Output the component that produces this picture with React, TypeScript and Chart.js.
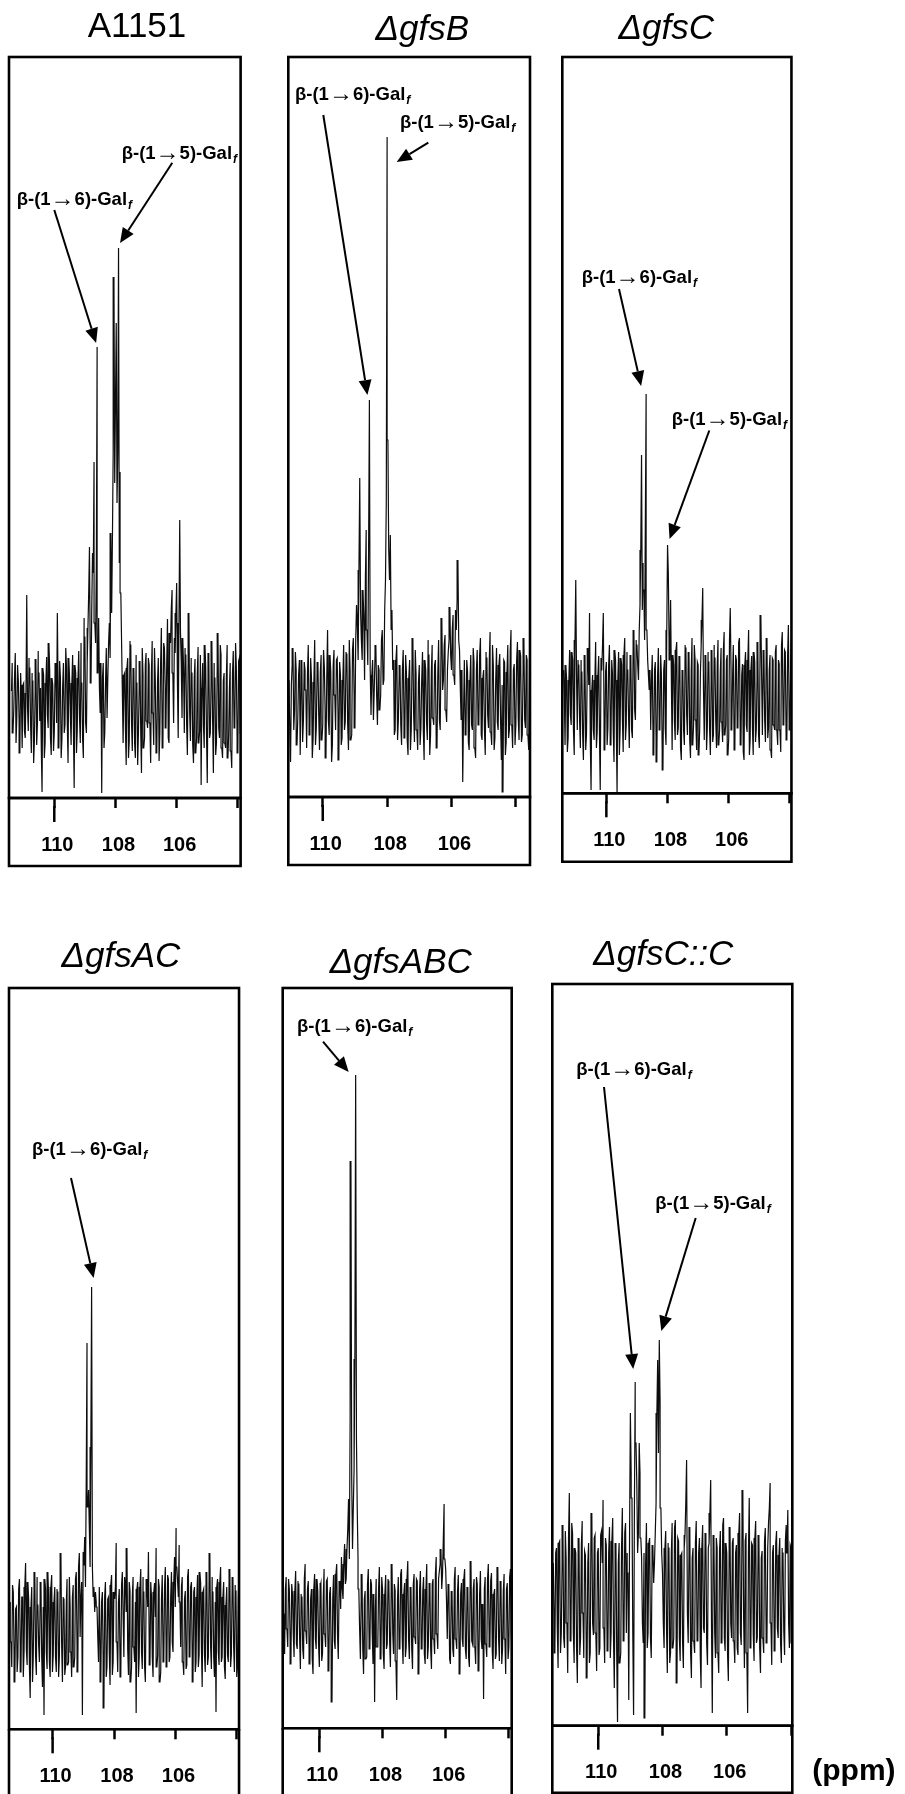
import { useEffect, useRef } from "react";
import { Chart, registerables } from "chart.js";

Chart.register(...registerables);

const SANS = "'Liberation Sans', Arial, Helvetica, sans-serif";

// 13C chemical-shift axis (ppm), drawn high-to-low
const PPM_TICKS = [110, 108, 106, 104];
const PPM_TICK_LABELS = ["110", "108", "106", ""];
const PPM_STEP = 0.025;

// Anomeric-region intensities (arbitrary units, baseline = 0).
// Each series starts at *_START ppm and has one point every PPM_STEP ppm.
const A1151_START = 111.4;
const A1151 = [
  12, 40, -30, -8, 25, 50, -40, -15, 38, 22, -18, -50, 30, 5, -45, 18, 20, -28, -35, 10,
  108, -5, -28, 45, 35, -22, -50, 30, 22, -60, -38, 12, 44, -42, -20, 52, 30, -18, 15, -45,
  -89, 35, 28, -55, -40, 20, 46, -12, -25, 60, 33, -35, -52, 25, 18, -48, -30, 30, 40, -20,
  90, 15, -45, 42, 26, -55, -36, 18, 40, -30, -22, 55, 35, -20, -60, 45, 24, -12, -42, 20,
  48, -25, -85, 38, 30, -50, -28, 25, 52, -15, -40, 60, 20, -35, -55, 85, 66, -20, -30, 40,
  75, 110, 156, 45, 20, 95, 150, 130, 241, 80, 60, 140, 356, 30, 85, 15, -10, 40, -90, 25,
  40, -45, -30, 20, 55, -15, 25, 60, 80, 45, 170, 90, 163, 250, 426, 220, 300, 380, 200, 250,
  455, 140, 231, 110, 60, 10, -40, 28, 30, -25, -62, 35, 45, -55, -38, 62, 58, -20, -48, 30,
  35, -40, -55, 48, 20, -62, -30, 15, 42, -28, -70, 55, 28, -45, -35, 38, 50, -18, -25, 45,
  38, -20, -60, 30, 62, -10, -42, 55, 26, -38, -50, 22, 45, -58, -30, 40, 75, -25, -45, 60,
  55, 15, -25, 40, 84, -35, -40, 70, 60, 95, 113, 30, -20, 65, 50, 90, 120, 20, -35, 80,
  183, 70, 40, -15, 65, 35, -30, 55, 48, -20, -52, 40, 90, -10, -38, 45, 30, -42, -60, 25,
  44, -50, -35, 30, 56, -40, -28, 48, -82, 15, 40, -22, -45, 58, 35, -30, -80, 25, 50, -35,
  -30, 20, 62, -18, -70, 40, 25, -52, -40, 35, 70, -25, -35, 58, 48, -45, -55, 22, 30, -40,
  -45, 28, 58, -55, -30, 15, 40, -48, -65, 30, 52, -20, -25, 60, 36, -35, -50, 42, 45, -28,
  -30, 35, 20,
];

const GFSB_START = 111.05;
const GFSB = [
  20, -25, -62, 15, 35, 52, -30, -10, 48, 30, -45, -18, 25, 40, -55, 10, 40, -42, -20, 38,
  30, 10, -48, 25, 55, -20, -35, 42, 22, -58, -40, 18, 60, -45, -28, 30, 38, -15, -50, 28,
  45, -40, -25, 50, 33, -12, -58, 22, 70, -20, -35, 45, 28, -62, -45, 35, 50, 5, -30, 40,
  42, -15, -60, 38, 25, -45, -38, 20, 55, -30, -22, 48, 46, -25, -50, 60, 30, -40, -35, 50,
  62, 5, -28, 60, 95, 75, 40, 130, 222, 90, 60, 40, 110, 85, 20, 120, 170, 70, 35, 150,
  300, 30, -15, 25, 40, -20, 10, 45, 55, 5, -25, 35, 30, -10, 5, 60, 70, 15, 20, 90,
  120, 200, 563, 260, 150, 120, 165, 70, 90, 30, 40, -35, -30, 40, 55, -40, -20, 25, 35, -25,
  -45, 30, 50, -20, -38, 45, 28, -40, -55, 22, 40, -50, -30, 38, 62, -15, -42, 50, 25, -30,
  -50, 18, 35, -45, -28, 20, 48, -30, -60, 40, 30, -22, -40, 60, 45, -55, -35, 28, 55, -18,
  -25, 35, 40, -38, -48, 25, 60, -20, -30, 50, 82, 10, 20, 55, 65, -10, -22, 30, 48, 60,
  93, 45, 30, 70, 85, 25, 15, 90, 70, 100, 140, 60, 50, 10, -20, 30, -82, -15, 40, -25,
  -35, 40, 28, -42, -50, 20, 45, -25, -30, 52, 38, -48, -58, 30, 50, -20, -25, 45, 62, -35,
  -40, 22, 30, -30, -55, 48, 42, -15, -28, 40, 68, -32, -45, 55, 35, -50, -38, 20, 52, -22,
  -30, 35, 46, -20, -60, 15, -92, 40, 38, -55, -42, 28, 55, -38, -30, 48, 70, -25, -48, 30,
  36, -45, -25, 40, 58, -18, -40, 50, 44, -42, -35, 30, 62, -20, -28, 45, 40, -35, -50, 42,
  30,
];

const GFSC_START = 111.4;
const GFSC = [
  30, 5, -45, 35, 22, -52, -38, 20, 50, -15, -25, 48, 40, -30, -55, 60, 120, 25, -30, 40,
  35, -20, -48, 40, 28, -35, -60, 22, 45, -50, -35, 30, 52, 15, 87, -40, -90, 10, 25, -30,
  -40, 20, 58, -48, -32, 25, 44, -35, -90, 42, 30, 55, 87, -20, -50, 28, 38, -45, -28, 35,
  55, -18, -45, 40, 26, -30, -62, 50, 40, -25, -93, 20, 48, -55, -30, 42, 35, -20, -52, 45,
  62, -40, -25, 48, 30, -15, -48, 35, 45, -30, -38, 52, 70, -10, -20, 60, 55, 35, 20, 70,
  95, 150, 245, 90, 137, 110, 60, 180, 306, 70, 40, 25, 10, 30, -30, 20, 45, -35, -55, 30,
  38, -40, -62, 25, 52, -18, -30, 45, 25, -50, -70, 30, 40, -28, -45, 70, 155, 128, 60, 40,
  100, 20, -50, 45, 35, -22, -40, 50, 58, -35, -28, 40, 44, -48, -60, 25, 30, -30, -45, 55,
  52, -15, -35, 42, 48, -40, -58, 30, 62, -45, -25, 55, 40, -20, -50, 38, 35, -55, -30, 28,
  55, 80, 112, 10, -40, 30, 45, -50, -28, 48, 38, -30, -55, 20, 50, -42, -35, 55, 42, -20,
  -48, 35, 60, -45, -30, 28, 52, -22, -42, 50, 68, -35, -25, 40, 45, -55, -38, 60, 92, 30,
  -30, 22, 55, -38, -50, 45, 40, -20, -28, 58, 62, -30, -45, 25, 36, -52, -60, 35, 48, -25,
  -32, 40, 70, -55, -40, 30, 44, -28, -55, 48, 38, -42, -30, 20, 58, -35, -48, 50, 85, 25,
  -35, 28, 50, -20, -42, 45, 62, -38, -28, 30, 45, -50, -58, 42, 40, -25, -30, 48, 55, -30,
  -45, 40, 36, -30, -52, 55, 68, -15, -25, 50, 48, -35, -40, 45, 75, -20, -30, 38, 60, 10,
  -20,
];

const GFSAC_START = 111.38;
const GFSAC = [
  25, -15, -40, 42, 35, -28, -55, 18, 20, -45, -30, 38, 48, -20, -45, 30, 30, -50, -25, 40,
  64, -22, -38, 45, 28, -40, -71, 20, 40, -55, -30, 35, 55, -28, -48, 50, 22, -18, -35, 30,
  45, -30, -60, 20, -88, 48, 38, -25, -42, 55, 30, -35, -50, 40, 52, -45, -28, 25, 40, -30,
  -45, 38, 35, -50, -30, 45, 74, -20, -55, 30, 28, -48, -40, 22, 48, -38, -35, 50, 20, -25,
  -50, 30, 42, -40, -30, 48, 55, -20, -45, 60, 74, -10, 30, 45, -88, 75, 62, 90, 40, 150,
  284, 120, 137, 100, 60, 180, 340, 60, 30, 40, 15, 35, 25, 20, -10, -35, 40, -20, -55, 25,
  35, -30, -81, 30, 45, -50, -40, 28, 30, -25, -58, 42, 52, -48, -35, 35, 28, 40, 84, -15,
  -45, 25, 38, -35, -50, 42, 55, -30, -30, 50, 42, 15, 79, -22, -48, 45, 36, -55, -40, 30,
  50, -20, -35, 25, -86, 38, 45, -50, -30, 40, 58, -25, -42, 50, 35, -40, -55, 30, 48, 20,
  75, -15, -38, 45, 30, -30, -50, 35, 44, 10, 79, -40, -28, 48, 40, -55, -45, 28, 52, -22,
  -35, 40, 60, -20, -40, 52, 48, -35, -30, 30, 55, -15, -25, 45, 70, 20, 99, 60, 45, 30,
  82, 25, -20, 40, 50, -35, -48, 28, 36, -42, -38, 50, 58, -20, -30, 40, 45, -30, -55, 35,
  40, -45, -35, 30, 52, -40, -28, 55, 44, -20, -60, 35, 38, -28, -45, 42, 55, -38, -30, 48,
  74, -20, -42, 50, 35, -30, -50, 25, -85, 40, 48, -25, -38, 45, 60, -35, -30, 30, 45, -40,
  -52, 22, 40, -28, -35, 45, 58, -40, -28, 38, 50, -20, -45, 42, 36, -50, -40, 28, 55, -18,
  -30,
];

const GFSABC_START = 111.15;
const GFSABC = [
  20, 5, -35, 30, 42, -10, -28, 40, 30, -20, -45, 35, 25, -15, -38, 28, 48, -25, -30, 38,
  35, -18, -50, 25, 22, -30, -40, 40, 55, -12, -25, 30, 38, -30, -45, 20, 30, -40, -55, 30,
  45, -20, -30, 40, 28, -25, -48, 32, 36, -42, -35, 22, 50, -15, -28, 38, 40, -30, -52, 25,
  32, -35, -83, 20, 44, -22, -30, 45, 55, -15, -40, 30, 38, 10, 62, 30, 20, 55, 75, 35,
  40, 70, 90, 120, 60, 200, 458, 140, 70, 110, 150, 260, 544, 180, 110, 60, 30, -10, -40, 20,
  45, -30, -55, 20, 28, -40, -38, 35, 50, -22, -30, 40, 35, -15, -45, 25, -83, 10, 40, -28,
  -28, 30, 52, -20, -40, 42, 30, -35, -50, 25, 44, -30, -25, 40, 38, -22, -48, 30, 55, -15,
  -35, 35, 28, -42, -81, 20, 42, -28, -30, 45, 50, -20, -45, 25, 36, -38, -28, 40, 58, -20,
  -40, 22, 32, -30, -50, 35, 45, -18, -25, 40, 38, -35, -55, 30, 48, -25, -30, 28, 42, -35,
  -45, 30, 55, -40, -28, 25, 36, -30, -50, 35, 40, -20, -35, 45, 62, -15, -30, 40, 48, 55,
  70, 30, 45, 80, 115, 60, 50, 20, -20, 30, 35, -40, -45, 22, 28, -30, -38, 40, 52, -20,
  -30, 28, 44, -35, -55, 25, 36, -20, -28, 40, 50, -30, -40, 22, 32, -38, -48, 35, 58, -22,
  -25, 30, 40, -28, -45, 42, 35, -40, -52, 25, 48, -20, -30, 15, -80, 30, 42, -25, -38, 40,
  55, -15, -28, 38, 46, -32, -50, 25, 30, -40, -35, 45, 52, -20, -42, 30, 38, -45, -30, 28,
  45, -20, -55, 30, 36, -40, -28, 42, 50, -15, -35,
];

const GFSCC_START = 111.4;
const GFSCC = [
  30, -20, -60, 40, 45, -35, -75, 50, 52, -60, -40, 30, 68, -45, -55, 62, 35, -30, -80, 55,
  100, -30, -48, 70, 60, -40, -70, 45, 40, -55, -90, 35, 55, -62, -45, 48, 72, -20, -65, 42,
  38, -50, -85, 30, 50, -70, -60, 65, 80, -30, -42, 55, 58, -40, -78, 40, 45, -62, -55, 58,
  62, 30, 93, -35, -70, 55, 48, -50, -58, 40, 66, -65, -40, 52, 75, -45, -95, 20, 50, -60,
  -129, 30, 50, -70, -60, 45, 85, -35, -48, 60, 70, -40, 40, 20, -107, 60, 180, 120, 95, -40,
  -122, 80, 211, 150, 110, 40, 60, 150, 120, 55, 35, -30, -50, 40, -125, 30, 70, -55, -40, 50,
  55, -45, -65, 30, 48, 10, 30, 60, 90, 180, 233, 140, 253, 190, 85, 40, 20, -30, -55, 45,
  62, -35, -80, 50, 45, -70, -60, 40, 70, -55, -45, 65, 73, -40, -90, 55, 52, -45, -68, 38,
  40, -50, -75, 45, 58, 90, 133, -20, -50, 40, 66, -60, -85, 35, 45, -48, -60, 50, 72, -42,
  -48, 40, 55, -62, -95, 45, 68, -35, -40, 52, 60, -50, -72, 45, 50, 80, 113, -30, -120, 40,
  58, -40, -65, 55, 45, -60, -80, 42, 62, -35, -50, 68, 75, -45, -58, 50, 40, -62, -88, 45,
  66, -30, -45, 50, 55, -48, -70, 40, 48, -55, -62, 60, 80, -40, -52, 70, 103, -25, -75, 52,
  60, -60, -120, 40, 95, -35, -55, 50, 48, -42, -68, 55, 72, -50, -45, 40, 58, -55, -80, 35,
  42, -45, -60, 52, 65, -38, -50, 45, 70, 85, 110, -30, -72, 40, 48, -40, -58, 50, 62, -35,
  -45, 38, 55, -50, -70, 45, 40, -38, -62, 52, 68, 40, 83, -30, -55, 48, 45, -50, -65, 40,
  50,
];

// Galactofuranose linkages
const LINK_16 = "6";
const LINK_15 = "5";

type Note = {
  link: string;
  peak: number; // ppm of the labelled peak
  text: [number, number]; // label start, relative to plot-box corner
  tail: [number, number]; // arrow start, relative to plot-box corner
  tip: [number, number]; // arrow head offset from the peak top
};

type Panel = {
  key: string;
  title: string;
  italic: boolean;
  titleAt: [number, number];
  start: number;
  values: number[];
  xMin: number;
  xMax: number;
  yMin: number;
  yMax: number;
  left: number;
  top: number;
  width: number;
  plotH: number;
  axisH: number;
  open: boolean;
  notes: Note[];
  unitLabel?: [number, number];
  extendRight?: boolean;
};

const PANELS: Panel[] = [
  {
    key: "a1151", title: "A1151", italic: false, titleAt: [128, -20],
    start: A1151_START, values: A1151, xMin: 103.91, xMax: 111.48, yMin: -95, yMax: 646,
    left: 9, top: 57, width: 242, plotH: 741, axisH: 68, open: false,
    notes: [
      { link: LINK_15, peak: 107.9, text: [112.7, 102.3], tail: [163.3, 105.7], tip: [1.5, -5] },
      { link: LINK_16, peak: 108.6, text: [7.7, 148], tail: [45.3, 153], tip: [-1, -4] },
    ],
  },
  {
    key: "gfsB", title: "ΔgfsB", italic: true, titleAt: [134, -17],
    start: GFSB_START, values: GFSB, xMin: 103.56, xMax: 111.07, yMin: -97, yMax: 643,
    left: 288.3, top: 57, width: 241.7, plotH: 740, axisH: 68, open: false,
    notes: [
      { link: LINK_16, peak: 108.55, text: [6.7, 43], tail: [35, 58], tip: [-2, -5] },
      { link: LINK_15, peak: 108.0, text: [111.7, 71.3], tail: [140, 85.7], tip: [9.6, 25] },
    ],
  },
  {
    key: "gfsC", title: "ΔgfsC", italic: true, titleAt: [104, -18],
    start: GFSC_START, values: GFSC, xMin: 103.95, xMax: 111.44, yMin: -93.3, yMax: 643,
    left: 562.3, top: 57, width: 240, plotH: 736.3, axisH: 68.4, open: false,
    notes: [
      { link: LINK_16, peak: 108.7, text: [19.4, 226], tail: [56.7, 232], tip: [-5, -8] },
      { link: LINK_15, peak: 108.0, text: [109.4, 367.8], tail: [147, 373.5], tip: [2, -6] },
    ],
  },
  {
    key: "gfsAC", title: "ΔgfsAC", italic: true, titleAt: [112, -21],
    start: GFSAC_START, values: GFSAC, xMin: 103.93, xMax: 111.42, yMin: -102.3, yMax: 639,
    left: 9, top: 988, width: 241, plotH: 741.3, axisH: 70, open: true,
    notes: [
      { link: LINK_16, peak: 108.73, text: [23, 167], tail: [62, 190], tip: [2, -9] },
    ],
  },
  {
    key: "gfsABC", title: "ΔgfsABC", italic: true, titleAt: [118, -15],
    start: GFSABC_START, values: GFSABC, xMin: 103.91, xMax: 111.16, yMin: -109.3, yMax: 631,
    left: 282.7, top: 988, width: 239.3, plotH: 740.3, axisH: 70, open: true,
    notes: [
      { link: LINK_16, peak: 108.85, text: [14.3, 43.7], tail: [40.3, 53.7], tip: [-7, -3] },
    ],
  },
  {
    key: "gfsCC", title: "ΔgfsC::C", italic: true, titleAt: [111, -19],
    start: GFSCC_START, values: GFSCC, xMin: 103.96, xMax: 111.43, yMin: -132.7, yMax: 609,
    left: 552.3, top: 984, width: 240, plotH: 741.7, axisH: 67, open: false,
    notes: [
      { link: LINK_16, peak: 108.85, text: [24, 91], tail: [51.7, 103], tip: [-2, -13] },
      { link: LINK_15, peak: 108.1, text: [103, 225], tail: [143.4, 234], tip: [2, -9] },
    ],
    unitLabel: [260, 796],
    extendRight: true,
  },
];

const SIDE = 12;
const HEAD = 62;

function frameOf(p: Panel) {
  const cl = Math.floor(p.left) - SIDE;
  const ct = Math.floor(p.top) - HEAD;
  const cr = p.extendRight ? 905 : Math.ceil(p.left + p.width) + SIDE;
  const cb = Math.ceil(p.top + p.plotH + p.axisH) + SIDE;
  return {
    left: cl,
    top: ct,
    width: cr - cl,
    height: cb - ct,
    padding: {
      left: p.left - cl,
      top: p.top - ct,
      right: cr - (p.left + p.width),
      bottom: cb - (p.top + p.plotH + p.axisH),
    },
  };
}

function drawLinkLabel(ctx: CanvasRenderingContext2D, x: number, y: number, link: string) {
  ctx.fillStyle = "#000";
  ctx.textAlign = "left";
  ctx.textBaseline = "alphabetic";
  let cx = x;
  ctx.font = `bold 18.5px ${SANS}`;
  const head = "β-(1";
  ctx.fillText(head, cx, y);
  cx += ctx.measureText(head).width;
  ctx.font = `24px ${SANS}`;
  const arrow = "→";
  ctx.fillText(arrow, cx, y + 1);
  cx += ctx.measureText(arrow).width;
  ctx.font = `bold 18.5px ${SANS}`;
  const rest = `${link})-Gal`;
  ctx.fillText(rest, cx, y);
  cx += ctx.measureText(rest).width + 1;
  ctx.font = `italic bold 12px ${SANS}`;
  ctx.fillText("f", cx, y + 4);
}

function drawArrow(ctx: CanvasRenderingContext2D, x0: number, y0: number, x1: number, y1: number) {
  const ang = Math.atan2(y1 - y0, x1 - x0);
  const len = 15;
  const half = 6.5;
  const c = Math.cos(ang);
  const s = Math.sin(ang);
  const bx = x1 - len * c;
  const by = y1 - len * s;
  ctx.strokeStyle = "#000";
  ctx.lineWidth = 2;
  ctx.beginPath();
  ctx.moveTo(x0, y0);
  ctx.lineTo(bx, by);
  ctx.stroke();
  ctx.fillStyle = "#000";
  ctx.beginPath();
  ctx.moveTo(x1, y1);
  ctx.lineTo(bx - half * s, by + half * c);
  ctx.lineTo(bx + half * s, by - half * c);
  ctx.closePath();
  ctx.fill();
}

function makeDecorations(p: Panel) {
  return {
    id: `decor-${p.key}`,
    afterDraw(chart: Chart) {
      const { ctx, chartArea: a } = chart;
      const xs = chart.scales.x;
      const ys = chart.scales.y;
      ctx.save();
      // plot box and axis box
      ctx.strokeStyle = "#000";
      ctx.lineWidth = 2.6;
      ctx.strokeRect(a.left, a.top, a.right - a.left, a.bottom - a.top);
      ctx.beginPath();
      if (p.open) {
        ctx.moveTo(a.left, chart.height + 5);
        ctx.lineTo(a.left, a.bottom);
        ctx.moveTo(a.right, a.bottom);
        ctx.lineTo(a.right, chart.height + 5);
      } else {
        ctx.rect(a.left, a.bottom, a.right - a.left, p.axisH);
      }
      ctx.stroke();
      // the 110 ppm tick is drawn longer
      const x110 = xs.getPixelForValue(110);
      ctx.lineWidth = 2.5;
      ctx.beginPath();
      ctx.moveTo(x110, a.bottom + 8);
      ctx.lineTo(x110, a.bottom + 24);
      ctx.stroke();
      // strain title
      ctx.fillStyle = "#000";
      ctx.textAlign = "center";
      ctx.textBaseline = "alphabetic";
      ctx.font = `${p.italic ? "italic " : ""}35px ${SANS}`;
      ctx.fillText(p.title, a.left + p.titleAt[0], a.top + p.titleAt[1]);
      // peak assignments
      for (const n of p.notes) {
        const idx = Math.round((p.start - n.peak) / PPM_STEP);
        const px = xs.getPixelForValue(p.start - idx * PPM_STEP);
        const py = ys.getPixelForValue(p.values[idx]);
        drawLinkLabel(ctx, a.left + n.text[0], a.top + n.text[1], n.link);
        drawArrow(ctx, a.left + n.tail[0], a.top + n.tail[1], px + n.tip[0], py + n.tip[1]);
      }
      if (p.unitLabel) {
        ctx.textAlign = "left";
        ctx.font = `bold 30px ${SANS}`;
        ctx.fillText("(ppm)", a.left + p.unitLabel[0], a.top + p.unitLabel[1]);
      }
      ctx.restore();
    },
  };
}

function SpectrumPanel({ panel }: { panel: Panel }) {
  const ref = useRef<HTMLCanvasElement | null>(null);
  const f = frameOf(panel);
  useEffect(() => {
    if (!ref.current) return;
    const points = panel.values
      .map((v, i) => ({ x: panel.start - i * PPM_STEP, y: v }))
      .reverse();
    const chart = new Chart(ref.current, {
      type: "line",
      data: {
        datasets: [
          {
            data: points,
            borderColor: "#0d0d0d",
            borderWidth: 1.2,
            borderJoinStyle: "miter",
            pointRadius: 0,
            tension: 0,
            fill: false,
          },
        ],
      },
      options: {
        animation: false,
        responsive: false,
        devicePixelRatio: 1,
        events: [],
        layout: { padding: f.padding },
        plugins: { legend: { display: false }, tooltip: { enabled: false }, title: { display: false } },
        scales: {
          x: {
            type: "linear",
            reverse: true,
            min: panel.xMin,
            max: panel.xMax,
            afterBuildTicks: (s: any) => {
              s.ticks = PPM_TICKS.map((v) => ({ value: v }));
            },
            afterFit: (s: any) => {
              s.height = panel.axisH;
            },
            border: { display: false },
            grid: {
              display: true,
              drawOnChartArea: false,
              drawTicks: true,
              tickLength: 10,
              tickWidth: 2.5,
              tickColor: "#000",
              color: "#000",
            },
            ticks: {
              autoSkip: false,
              maxRotation: 0,
              padding: 25,
              labelOffset: 3,
              color: "#000",
              font: { family: SANS, size: 20, weight: "bold" },
              callback: (v: any) => {
                const k = PPM_TICKS.indexOf(Number(v));
                return k >= 0 ? PPM_TICK_LABELS[k] : "";
              },
            },
          },
          y: { display: false, min: panel.yMin, max: panel.yMax },
        },
      },
      plugins: [makeDecorations(panel)],
    });
    return () => chart.destroy();
  }, [panel]);
  return (
    <canvas
      ref={ref}
      width={f.width}
      height={f.height}
      style={{ position: "absolute", left: f.left, top: f.top, width: f.width, height: f.height }}
    />
  );
}

export default function App() {
  return (
    <div
      style={{
        position: "absolute",
        left: 0,
        top: 0,
        width: 905,
        height: 1794,
        overflow: "hidden",
        background: "#fff",
      }}
    >
      {PANELS.map((p) => (
        <SpectrumPanel key={p.key} panel={p} />
      ))}
    </div>
  );
}
